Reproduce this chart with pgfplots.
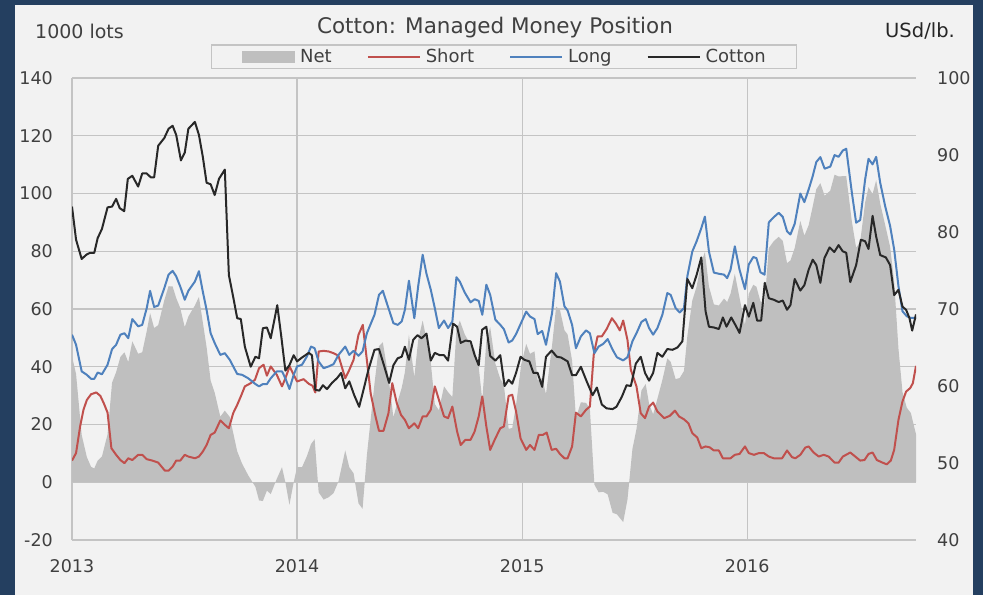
\documentclass[border=0pt]{standalone}
\usepackage{pgfplots}
\pgfplotsset{compat=1.18}
\usepackage{pgfplotstable}
\usepackage{fontspec}
\setmainfont{DejaVu Sans}
\definecolor{navy}{RGB}{36,63,96}
\definecolor{panel}{RGB}{242,242,242}
\definecolor{gridc}{RGB}{196,196,196}
\definecolor{netc}{RGB}{191,191,191}
\definecolor{shortc}{RGB}{192,80,77}
\definecolor{longc}{RGB}{79,129,189}
\definecolor{cottonc}{RGB}{40,40,40}
\definecolor{txt}{RGB}{64,64,64}

\pgfplotstableread{
t v
2013.000 51.1
2013.018 47.6
2013.043 38.4
2013.066 37.2
2013.085 35.8
2013.099 35.8
2013.114 38.0
2013.133 37.4
2013.158 40.7
2013.178 46.1
2013.196 47.6
2013.215 51.1
2013.233 51.6
2013.250 49.9
2013.268 56.5
2013.294 54.0
2013.312 54.5
2013.332 60.3
2013.347 66.3
2013.365 60.7
2013.383 61.2
2013.410 67.2
2013.429 71.9
2013.447 73.2
2013.463 71.3
2013.481 67.8
2013.501 63.2
2013.517 66.3
2013.546 69.5
2013.564 73.1
2013.581 66.1
2013.598 59.7
2013.616 51.6
2013.634 48.2
2013.659 44.1
2013.679 44.7
2013.701 42.4
2013.734 37.5
2013.756 37.2
2013.783 36.0
2013.815 34.0
2013.831 33.2
2013.848 34.0
2013.866 34.0
2013.883 36.0
2013.910 38.4
2013.933 38.4
2013.948 36.0
2013.966 32.3
2013.985 37.2
2014.000 40.1
2014.022 40.7
2014.044 43.6
2014.062 47.0
2014.078 46.4
2014.096 41.8
2014.118 39.5
2014.140 40.1
2014.162 40.9
2014.184 44.1
2014.214 47.0
2014.232 44.1
2014.251 45.5
2014.273 43.8
2014.291 45.3
2014.310 51.6
2014.344 58.0
2014.364 64.9
2014.381 66.3
2014.406 60.3
2014.428 55.1
2014.447 54.5
2014.465 55.7
2014.479 59.7
2014.497 69.8
2014.521 56.8
2014.538 67.8
2014.558 78.8
2014.575 72.2
2014.594 66.7
2014.612 60.3
2014.630 53.4
2014.653 56.0
2014.671 53.4
2014.690 55.7
2014.708 71.0
2014.723 69.5
2014.745 65.7
2014.771 62.3
2014.789 63.4
2014.807 62.8
2014.823 58.0
2014.841 68.4
2014.858 64.9
2014.881 56.3
2014.903 54.5
2014.919 53.0
2014.940 48.4
2014.956 49.1
2014.973 51.3
2014.996 55.3
2015.018 59.1
2015.035 57.4
2015.055 56.5
2015.069 51.3
2015.089 52.4
2015.106 47.6
2015.133 58.6
2015.151 72.4
2015.168 69.5
2015.188 60.9
2015.202 59.5
2015.222 54.5
2015.239 46.4
2015.261 50.5
2015.284 52.6
2015.301 51.6
2015.321 44.7
2015.340 47.0
2015.360 47.9
2015.380 49.6
2015.402 45.9
2015.421 43.3
2015.449 42.2
2015.468 43.3
2015.490 48.8
2015.508 51.6
2015.530 55.5
2015.549 56.5
2015.564 53.4
2015.582 51.1
2015.601 53.4
2015.623 58.0
2015.645 65.5
2015.660 64.9
2015.682 60.3
2015.700 58.8
2015.719 60.3
2015.734 71.3
2015.756 79.9
2015.775 83.4
2015.796 88.0
2015.812 92.0
2015.830 79.9
2015.852 72.6
2015.874 72.2
2015.897 71.9
2015.911 70.7
2015.926 73.6
2015.945 81.7
2015.966 73.6
2015.990 66.9
2016.007 75.4
2016.027 78.0
2016.041 77.6
2016.059 72.7
2016.077 71.9
2016.096 90.0
2016.118 91.8
2016.140 93.3
2016.158 91.9
2016.177 86.9
2016.192 85.8
2016.211 89.5
2016.236 100.0
2016.254 97.0
2016.273 101.4
2016.291 106.0
2016.307 110.9
2016.325 112.6
2016.344 108.6
2016.369 109.3
2016.388 113.3
2016.406 112.7
2016.425 114.9
2016.440 115.5
2016.465 100.3
2016.484 89.9
2016.502 90.8
2016.524 104.9
2016.539 112.0
2016.557 110.1
2016.573 112.7
2016.591 103.7
2016.613 95.6
2016.635 88.7
2016.653 80.6
2016.672 67.9
2016.690 59.2
2016.709 57.5
2016.727 56.9
2016.750 56.9
}\longdata

\pgfplotstableread{
t v
2013.000 7.5
2013.018 10.1
2013.036 19.3
2013.051 25.1
2013.066 28.5
2013.085 30.5
2013.108 31.1
2013.126 29.9
2013.141 27.4
2013.158 24.1
2013.175 11.8
2013.196 9.5
2013.215 7.7
2013.233 6.6
2013.250 8.3
2013.268 7.7
2013.294 9.5
2013.312 9.5
2013.332 8.0
2013.357 7.5
2013.383 6.8
2013.413 4.0
2013.429 4.0
2013.447 5.4
2013.463 7.5
2013.481 7.5
2013.501 9.5
2013.517 8.9
2013.546 8.3
2013.564 8.9
2013.581 10.6
2013.598 12.9
2013.616 16.4
2013.634 17.2
2013.659 21.4
2013.679 19.9
2013.697 18.7
2013.716 23.9
2013.734 26.8
2013.750 29.7
2013.768 33.2
2013.794 34.3
2013.813 35.5
2013.831 39.5
2013.851 40.7
2013.866 36.9
2013.883 40.1
2013.910 37.2
2013.933 33.2
2013.948 36.0
2013.967 40.1
2013.985 37.2
2014.000 34.9
2014.029 35.7
2014.052 34.1
2014.069 33.4
2014.081 31.1
2014.096 45.3
2014.118 45.5
2014.140 45.3
2014.162 44.7
2014.184 43.8
2014.214 36.0
2014.232 38.9
2014.251 42.4
2014.273 51.1
2014.292 54.5
2014.310 42.4
2014.327 30.8
2014.347 23.3
2014.364 17.8
2014.384 17.8
2014.406 23.9
2014.423 34.3
2014.443 27.4
2014.462 23.3
2014.479 21.6
2014.497 18.7
2014.521 20.4
2014.538 18.7
2014.558 22.8
2014.575 22.8
2014.594 25.1
2014.612 33.2
2014.634 27.6
2014.653 22.8
2014.671 22.2
2014.690 26.2
2014.711 17.6
2014.727 12.9
2014.748 14.7
2014.771 14.7
2014.789 17.6
2014.807 22.8
2014.823 29.7
2014.841 19.3
2014.858 11.2
2014.881 15.2
2014.903 18.7
2014.919 19.3
2014.940 29.9
2014.956 30.3
2014.973 24.5
2014.993 15.2
2015.018 11.2
2015.035 12.9
2015.055 11.2
2015.074 16.4
2015.092 16.4
2015.109 17.2
2015.131 11.2
2015.151 11.6
2015.168 9.8
2015.188 8.3
2015.202 8.3
2015.222 12.4
2015.239 24.1
2015.261 22.8
2015.284 25.1
2015.301 26.2
2015.318 44.1
2015.335 50.5
2015.354 50.5
2015.375 53.0
2015.399 56.8
2015.417 54.9
2015.434 52.6
2015.449 56.0
2015.468 49.3
2015.483 38.9
2015.508 33.2
2015.527 23.9
2015.546 22.2
2015.564 26.2
2015.582 27.6
2015.601 24.5
2015.631 22.2
2015.656 23.0
2015.679 24.8
2015.697 22.8
2015.719 21.8
2015.739 20.4
2015.756 17.0
2015.778 15.5
2015.796 11.8
2015.815 12.4
2015.833 12.1
2015.852 11.0
2015.874 11.0
2015.892 8.3
2015.926 8.3
2015.945 9.5
2015.966 9.8
2015.990 12.4
2016.007 10.1
2016.030 9.5
2016.052 10.1
2016.074 10.1
2016.096 8.9
2016.118 8.3
2016.155 8.3
2016.177 11.0
2016.199 8.7
2016.214 8.3
2016.236 9.5
2016.258 12.0
2016.273 12.4
2016.295 10.3
2016.318 8.9
2016.340 9.5
2016.362 8.9
2016.388 6.8
2016.406 6.8
2016.425 8.9
2016.458 10.3
2016.480 8.9
2016.502 7.5
2016.521 7.7
2016.539 9.8
2016.557 10.3
2016.576 7.7
2016.598 6.9
2016.620 6.2
2016.638 7.5
2016.653 11.2
2016.672 21.6
2016.690 28.0
2016.706 31.4
2016.724 32.6
2016.736 34.3
2016.750 40.3
}\shortdata

\pgfplotstableread{
t v
2013.000 43.6
2013.018 37.5
2013.043 16.4
2013.066 8.7
2013.085 5.3
2013.099 4.8
2013.114 7.5
2013.133 8.9
2013.158 16.6
2013.178 34.5
2013.196 38.1
2013.215 43.4
2013.233 45.0
2013.250 41.6
2013.268 48.8
2013.294 44.5
2013.312 45.0
2013.332 52.3
2013.347 58.6
2013.365 53.4
2013.383 54.4
2013.410 63.0
2013.429 67.9
2013.447 67.8
2013.463 63.8
2013.481 60.3
2013.501 53.7
2013.517 57.4
2013.546 61.2
2013.564 64.2
2013.581 55.5
2013.598 46.8
2013.616 35.2
2013.634 31.0
2013.659 22.7
2013.679 24.8
2013.701 22.6
2013.734 10.7
2013.756 6.4
2013.783 2.4
2013.815 -1.6
2013.831 -6.3
2013.848 -6.5
2013.866 -2.9
2013.883 -4.1
2013.910 1.2
2013.933 5.2
2013.948 0.0
2013.966 -7.8
2013.985 0.0
2014.000 5.2
2014.022 5.2
2014.044 9.1
2014.062 13.2
2014.078 14.9
2014.096 -3.5
2014.118 -6.0
2014.140 -5.2
2014.162 -3.8
2014.184 0.3
2014.214 11.0
2014.232 5.2
2014.251 3.1
2014.273 -7.3
2014.291 -9.2
2014.310 9.2
2014.344 34.2
2014.364 47.1
2014.381 48.5
2014.406 36.4
2014.428 22.5
2014.447 28.0
2014.465 32.7
2014.479 38.1
2014.497 51.1
2014.521 36.4
2014.538 49.1
2014.558 56.0
2014.575 49.4
2014.594 41.6
2014.612 27.1
2014.630 24.9
2014.653 33.2
2014.671 31.2
2014.690 29.5
2014.708 52.6
2014.723 56.0
2014.745 51.2
2014.771 47.6
2014.789 45.8
2014.807 40.0
2014.823 28.3
2014.841 49.1
2014.858 53.7
2014.881 41.1
2014.903 35.8
2014.919 33.7
2014.940 18.5
2014.956 18.8
2014.973 26.8
2014.996 40.8
2015.018 47.9
2015.035 44.5
2015.055 45.3
2015.069 35.3
2015.089 36.0
2015.106 30.5
2015.133 47.4
2015.151 60.8
2015.168 59.7
2015.188 52.6
2015.202 51.2
2015.222 42.1
2015.239 22.3
2015.261 27.7
2015.284 27.5
2015.301 25.4
2015.321 -0.8
2015.340 -3.5
2015.360 -3.3
2015.380 -4.2
2015.402 -10.6
2015.421 -11.1
2015.449 -13.8
2015.468 -6.0
2015.490 11.5
2015.508 18.4
2015.530 31.8
2015.549 34.0
2015.564 27.2
2015.582 23.5
2015.601 28.9
2015.623 35.4
2015.645 42.9
2015.660 41.7
2015.682 35.7
2015.700 36.1
2015.719 38.5
2015.734 50.6
2015.756 62.9
2015.775 67.7
2015.796 76.2
2015.812 79.7
2015.830 67.8
2015.852 61.6
2015.874 61.2
2015.897 63.6
2015.911 62.4
2015.926 65.3
2015.945 72.2
2015.966 63.8
2015.990 54.5
2016.007 65.3
2016.027 68.4
2016.041 67.7
2016.059 62.6
2016.077 61.8
2016.096 81.1
2016.118 83.5
2016.140 85.0
2016.158 83.6
2016.177 75.9
2016.192 76.8
2016.211 81.1
2016.236 90.5
2016.254 85.4
2016.273 89.0
2016.291 95.5
2016.307 101.5
2016.325 103.6
2016.344 99.2
2016.369 101.0
2016.388 106.5
2016.406 105.9
2016.425 106.0
2016.440 106.0
2016.465 90.3
2016.484 81.2
2016.502 83.3
2016.524 96.9
2016.539 102.2
2016.557 99.8
2016.573 104.6
2016.591 96.5
2016.613 89.1
2016.635 81.5
2016.653 69.4
2016.672 46.3
2016.690 31.2
2016.709 25.8
2016.727 24.0
2016.750 16.6
}\netdata

\pgfplotstableread{
t v
2013.000 83.3
2013.018 79.0
2013.043 76.5
2013.066 77.1
2013.081 77.3
2013.099 77.3
2013.114 79.2
2013.133 80.4
2013.158 83.2
2013.178 83.3
2013.196 84.3
2013.212 83.1
2013.232 82.7
2013.248 86.9
2013.268 87.3
2013.294 85.9
2013.312 87.6
2013.332 87.6
2013.350 87.1
2013.365 87.1
2013.383 91.2
2013.410 92.2
2013.429 93.4
2013.447 93.8
2013.463 92.6
2013.484 89.3
2013.501 90.3
2013.517 93.4
2013.546 94.3
2013.564 92.6
2013.581 89.8
2013.598 86.4
2013.616 86.2
2013.634 84.8
2013.653 86.9
2013.679 88.1
2013.697 74.4
2013.716 71.6
2013.734 68.8
2013.750 68.7
2013.768 65.1
2013.794 62.5
2013.815 63.8
2013.831 63.6
2013.848 67.5
2013.866 67.6
2013.883 66.2
2013.912 70.5
2013.930 66.4
2013.948 62.0
2013.966 62.7
2013.985 64.0
2014.000 63.2
2014.022 63.7
2014.052 64.3
2014.066 64.0
2014.081 59.5
2014.099 59.4
2014.115 60.1
2014.133 59.6
2014.155 60.4
2014.177 61.0
2014.196 61.7
2014.214 59.7
2014.232 60.6
2014.254 58.8
2014.276 57.3
2014.295 59.5
2014.317 62.1
2014.344 64.7
2014.364 64.8
2014.388 62.5
2014.409 60.4
2014.428 62.7
2014.447 63.6
2014.465 63.8
2014.479 65.1
2014.497 63.4
2014.516 66.0
2014.535 66.6
2014.553 66.2
2014.575 66.8
2014.594 63.3
2014.612 64.3
2014.634 64.0
2014.653 64.0
2014.671 63.3
2014.693 68.1
2014.711 67.7
2014.727 65.6
2014.748 65.9
2014.771 65.8
2014.789 64.0
2014.807 62.7
2014.822 67.3
2014.841 67.7
2014.858 63.9
2014.881 63.3
2014.903 64.0
2014.922 60.0
2014.940 60.8
2014.956 60.3
2014.973 61.7
2014.993 63.8
2015.010 63.4
2015.032 63.2
2015.050 61.7
2015.069 61.7
2015.089 59.9
2015.106 63.8
2015.131 64.6
2015.154 63.8
2015.173 63.7
2015.202 63.2
2015.222 61.4
2015.239 61.4
2015.261 62.5
2015.284 60.8
2015.313 58.8
2015.332 59.8
2015.354 57.6
2015.375 57.1
2015.402 57.0
2015.419 57.3
2015.443 58.6
2015.464 60.1
2015.483 60.0
2015.505 62.9
2015.527 63.8
2015.546 61.7
2015.564 60.7
2015.582 61.7
2015.601 64.3
2015.623 63.8
2015.645 64.8
2015.668 64.7
2015.690 65.0
2015.712 65.8
2015.734 73.9
2015.756 72.7
2015.775 74.4
2015.796 76.7
2015.815 69.7
2015.830 67.7
2015.852 67.6
2015.874 67.4
2015.892 68.9
2015.908 67.7
2015.929 68.9
2015.948 67.9
2015.966 66.9
2015.990 70.5
2016.007 69.0
2016.027 70.8
2016.044 68.5
2016.062 68.5
2016.078 73.4
2016.096 71.4
2016.118 71.2
2016.140 70.9
2016.158 71.1
2016.177 69.9
2016.192 70.5
2016.211 73.9
2016.236 72.4
2016.254 73.1
2016.273 75.1
2016.291 76.4
2016.307 75.7
2016.325 73.4
2016.343 76.6
2016.366 78.0
2016.387 77.4
2016.406 78.3
2016.424 77.5
2016.440 77.3
2016.458 73.5
2016.484 75.7
2016.505 79.0
2016.524 78.8
2016.539 77.8
2016.557 82.1
2016.573 79.4
2016.591 77.0
2016.616 76.7
2016.635 75.7
2016.653 71.8
2016.672 72.5
2016.690 70.3
2016.706 69.9
2016.721 68.8
2016.733 67.2
2016.750 69.3
}\cottondata

\newcommand{\tickfont}{\fontsize{17.5bp}{20bp}\selectfont}
\newcommand{\legfont}{\fontsize{18bp}{21bp}\selectfont}

\begin{document}
\begin{tikzpicture}
\fill[navy] (0bp,0bp) rectangle (983bp,595bp);
\fill[panel] (15bp,0bp) rectangle (973bp,590bp);
\useasboundingbox (0bp,0bp) rectangle (983bp,595bp);

\node[anchor=base, text=txt, font=\fontsize{21.5bp}{24bp}\selectfont, inner sep=0pt] at (495bp,561.7bp) {Cotton: Managed Money Position};
\node[anchor=base west, text=txt, font=\fontsize{19bp}{22bp}\selectfont, inner sep=0pt] at (35bp,556.7bp) {1000 lots};
\node[anchor=base east, text=black!85, font=\fontsize{19.5bp}{22bp}\selectfont, inner sep=0pt] at (955bp,557.7bp) {USd/lb.};

\begin{axis}[
  at={(72bp,55bp)}, anchor=south west,
  scale only axis, width=844bp, height=462bp,
  xmin=2013, xmax=2016.75, ymin=-20, ymax=140,
  xtick={2013,2014,2015,2016}, ytick={-20,0,...,140},
  xmajorgrids, ymajorgrids,
  major grid style={gridc, line width=1.2bp},
  axis line style={draw=none},
  major tick length=0pt,
  tick style={draw=none},
  /pgf/number format/assume math mode=true,
  /pgf/number format/1000 sep={},
  ticklabel style={font=\tickfont, text=txt, inner sep=0pt},
  yticklabel style={anchor=east, xshift=-19bp},
  xticklabel style={anchor=north, yshift=-19.5bp},
  legend columns=4,
  legend cell align=left,
  legend image code/.code={\draw[#1, line width=2bp] (0bp,0bp) -- (52bp,0bp);},
  legend style={at={(0.5118,1.0465)}, anchor=center, draw=gridc, line width=1.2bp,
    fill=panel, font=\legfont, text=txt, inner xsep=31bp, inner ysep=4bp,
    nodes={inner sep=0bp},
    /tikz/every odd column/.style={column sep=5bp},
    /tikz/every even column/.style={column sep=35bp}},
]
\addplot[fill=netc, draw=none, legend image code/.code={\fill[netc] (0bp,-6bp) rectangle (53bp,6bp);}] table[x=t,y=v] {\netdata} \closedcycle;
\addlegendentry{Net}
\addplot[shortc, line width=2bp, line join=round] table[x=t,y=v] {\shortdata};
\addlegendentry{Short}
\addplot[longc, line width=2bp, line join=round] table[x=t,y=v] {\longdata};
\addlegendentry{Long}
\addlegendimage{cottonc}
\addlegendentry{Cotton}
\draw[gridc, line width=2bp] (rel axis cs:0,0) -- (rel axis cs:1,0);
\end{axis}

\begin{axis}[
  at={(72bp,55bp)}, anchor=south west,
  scale only axis, width=844bp, height=462bp,
  xmin=2013, xmax=2016.75, ymin=40, ymax=100,
  axis x line=none, xtick=\empty,
  axis y line*=right,
  axis line style={draw=none},
  ytick={40,50,...,100},
  major tick length=0pt,
  tick style={draw=none},
  /pgf/number format/assume math mode=true,
  ticklabel style={font=\tickfont, text=txt, inner sep=0pt},
  yticklabel style={anchor=west, xshift=21bp},
]
\addplot[cottonc, line width=2bp, line join=round] table[x=t,y=v] {\cottondata};
\end{axis}
\end{tikzpicture}
\end{document}
